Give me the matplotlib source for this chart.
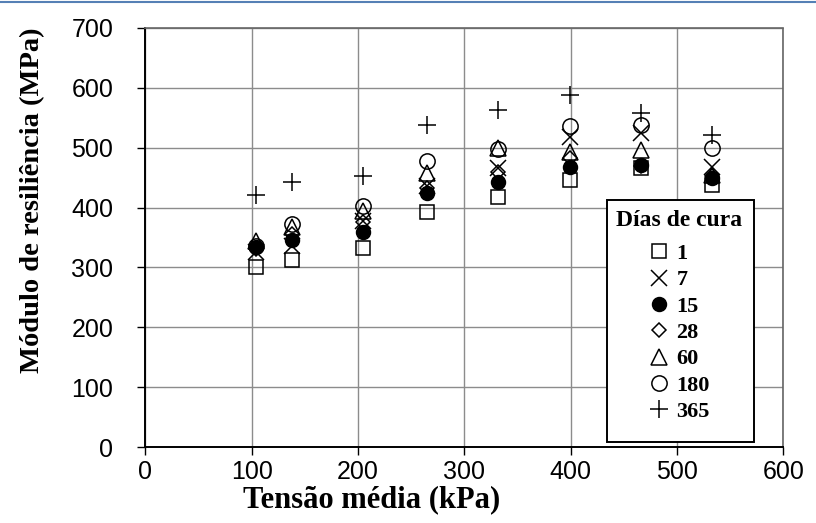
import numpy as np
import matplotlib.pyplot as plt
from matplotlib.lines import Line2D
from matplotlib.patches import Rectangle

# Mean stress (kPa) of each loading stage
tensao = [104, 138, 205, 265, 332, 399, 466, 533]

# Resilient modulus (MPa) by curing time (days)
mr_1 = [301, 312, 332, 393, 418, 446, 466, 438]
mr_7 = [325, 336, 378, 436, 466, 518, 525, 468]
mr_15 = [334, 346, 359, 424, 443, 468, 471, 449]
mr_28 = [330, 356, 376, 432, 460, 483, 470, 452]
mr_60 = [344, 368, 395, 458, 500, 493, 496, 455]
mr_180 = [336, 372, 402, 478, 497, 536, 538, 500]
mr_365 = [421, 443, 453, 538, 563, 588, 558, 522]

dias = ['1', '7', '15', '28', '60', '180', '365']

plt.figure(figsize=(8.16, 5.23), dpi=100)
ax = plt.axes([0.178, 0.1453, 0.782, 0.8012])

# Each series: values, marker, face colour, size
series = [
    (mr_1, 's', 'none', 10),
    (mr_7, 'x', 'black', 11),
    (mr_15, 'o', 'black', 10),
    (mr_28, 'D', 'none', 7.5),
    (mr_60, '^', 'none', 11),
    (mr_180, 'o', 'none', 11),
    (mr_365, '+', 'black', 12.5),
]
for (vals, mk, fc, ms), lab in zip(series, dias):
    ax.plot(tensao, vals, linestyle='none', marker=mk, markersize=ms,
            markerfacecolor=fc, markeredgecolor='black', markeredgewidth=1.1,
            color='black', label=lab)

ax.set_xlim(0, 600)
ax.set_ylim(0, 700)
ax.set_xticks(np.arange(0, 601, 100))
ax.set_yticks(np.arange(0, 701, 100))
ax.grid(True, color='#8c8c8c', linewidth=1.0)
ax.set_axisbelow(True)

for s in ['left', 'bottom']:
    ax.spines[s].set_linewidth(1.4)
    ax.spines[s].set_color('black')
for s in ['top', 'right']:
    ax.spines[s].set_linewidth(1.2)
    ax.spines[s].set_color('#666666')
    ax.spines[s].set_linestyle((0, (1, 1)))

ax.tick_params(direction='out', length=6, width=1, labelsize=18)
ax.tick_params(axis='y', pad=17)
ax.tick_params(axis='x', pad=3)
for t in ax.get_xticklabels() + ax.get_yticklabels():
    t.set_fontfamily('Liberation Sans')

ax.set_xlabel('Tensão média (kPa)', family='Liberation Serif', fontweight='bold',
              fontsize=22)
ax.set_ylabel('Módulo de resiliência (MPa)', family='Liberation Serif',
              fontweight='bold', fontsize=20.5)
ax.xaxis.set_label_coords(0.354, -0.09)
ax.yaxis.set_label_coords(-0.157, 0.59)

# legend box drawn as its own rectangle so the padding can be set freely
ax.add_patch(Rectangle((0.724, 0.012), 0.2305, 0.5775, transform=ax.transAxes,
                       facecolor='white', edgecolor='black', linewidth=1.4,
                       zorder=4, clip_on=False))
leg = ax.legend(title='Días de cura', loc='upper center', bbox_to_anchor=(0.836, 0.5895),
                frameon=False,
                prop={'family': 'Liberation Serif', 'weight': 'bold', 'size': 16},
                title_fontproperties={'family': 'Liberation Serif', 'weight': 'bold', 'size': 17},
                handlelength=1.0, handletextpad=0.3, labelspacing=0.26,
                borderpad=0.45, borderaxespad=0)
leg.set_zorder(5)
leg._legend_box.align = 'center'
leg._legend_box.sep = 9

# thin blue rule across the top edge
plt.gcf().add_artist(Line2D([0, 1], [0.997, 0.997], transform=plt.gcf().transFigure,
                            color='#5580b5', linewidth=1.5))

plt.savefig('out.png', dpi=100)
